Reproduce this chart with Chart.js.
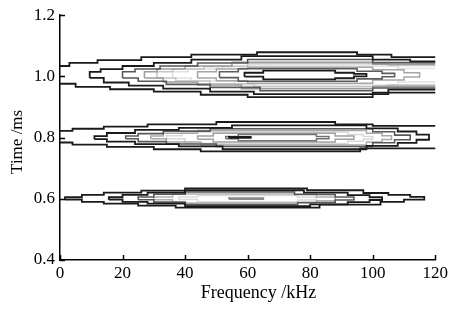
<!DOCTYPE html>
<html><head><meta charset="utf-8">
<script src="https://cdn.jsdelivr.net/npm/chart.js@4/dist/chart.umd.min.js"></script>
<style>html,body{margin:0;padding:0;background:#fff}canvas{display:block}</style>
</head><body>
<canvas id="c" width="451" height="309"></canvas>
<script>
// Axis ticks
const freqTicks = [0, 20, 40, 60, 80, 100, 120];
const timeTicks = [0.4, 0.6, 0.8, 1.0, 1.2];
const timeTickLabels = ['0.4', '0.6', '0.8', '1.0', '1.2'];
const xTitle = 'Frequency /kHz';
const yTitle = 'Time /ms';

// Contours around t = 1.0 ms  (points: [kHz, ms], stepped outlines)
const a1 = [[-3,0.976],[3,1.034],[12,1.044],[26,1.053],[42,1.063],[63,1.071],[95,1.079],[106,1.071],[125,1.063],[100,0.947],[60,0.932],[45,0.940],[30,0.950],[16,0.958],[5,0.966],[-3,0.976]];
const a2 = [[9.5,0.995],[13,1.015],[20,1.024],[30,1.034],[42,1.044],[58,1.055],[100,1.066],[112,1.055],[125,1.049],[105,0.957],[62,0.942],[48,0.950],[33,0.960],[22,0.970],[14,0.980],[9.5,0.995]];
const a3 = [[20,0.995],[24,1.015],[32,1.024],[44,1.034],[60,1.044],[100,1.055],[125,1.045],[100,0.962],[64,0.953],[48,0.964],[34,0.974],[25,0.984],[20,0.995]];
const a4 = [[27,0.995],[31,1.015],[40,1.024],[55,1.034],[100,1.046],[125,1.040],[100,0.968],[58,0.960],[44,0.972],[33,0.982],[27,0.995]];
const a5 = [[31,0.995],[36,1.015],[46,1.024],[60,1.032],[105,1.041],[125,1.036],[105,0.972],[62,0.966],[48,0.976],[37,0.985],[31,0.995]];
const a6 = [[36,0.995],[41,1.015],[52,1.024],[108,1.034],[125,1.026],[108,0.982],[56,0.972],[42,0.985],[36,0.995]];
const a7 = [[44,0.995],[50,1.015],[60,1.024],[100,1.030],[110,1.022],[115,1.012],[110,0.998],[100,0.988],[60,0.978],[50,0.986],[44,0.995]];
const a8 = [[51,0.996],[57,1.015],[95,1.025],[103,1.017],[107,1.010],[103,0.999],[95,0.992],[57,0.984],[51,0.996]];
const a9 = [[59,0.999],[65,1.012],[88,1.019],[94,1.012],[98,1.008],[94,1.000],[88,0.994],[65,0.990],[59,0.999]];

// Contours around t = 0.8 ms
const b1 = [[-3,0.784],[4,0.822],[14,0.829],[28,0.836],[50,0.843],[88,0.851],[100,0.843],[125,0.838],[96,0.765],[45,0.755],[30,0.762],[15,0.770],[4,0.777],[-3,0.784]];
const b2 = [[11,0.795],[15,0.805],[24,0.815],[38,0.825],[55,0.832],[98,0.840],[108,0.830],[114,0.820],[118,0.810],[114,0.793],[108,0.783],[98,0.773],[52,0.762],[38,0.771],[24,0.779],[15,0.787],[11,0.795]];
const b3 = [[21,0.796],[25,0.805],[33,0.813],[48,0.821],[100,0.829],[107,0.819],[112,0.808],[107,0.793],[100,0.783],[50,0.771],[34,0.779],[25,0.787],[21,0.796]];
const b4 = [[29,0.796],[33,0.805],[44,0.814],[98,0.823],[103,0.814],[106,0.806],[103,0.794],[98,0.786],[45,0.776],[34,0.786],[29,0.796]];
const b5 = [[34,0.796],[39,0.806],[92,0.818],[97,0.810],[100,0.804],[97,0.795],[92,0.788],[40,0.781],[34,0.796]];
const b6 = [[44,0.795],[49,0.805],[88,0.814],[94,0.805],[88,0.795],[49,0.786],[44,0.795]];
const b7 = [[53,0.796],[57,0.804],[82,0.810],[86,0.804],[82,0.796],[57,0.790],[53,0.796]];
const b8 = [[54,0.799],[61,0.802],[54,0.799]];

// Contours around t = 0.6 ms
const c1 = [[1.6,0.597],[7,0.605],[14,0.613],[26,0.620],[40,0.627],[79,0.634],[97,0.628],[105,0.619],[112,0.613],[116.5,0.606],[110,0.597],[102.5,0.590],[83,0.581],[37,0.571],[25,0.578],[14,0.584],[7,0.590],[1.6,0.597]];
const c2 = [[15.6,0.597],[20,0.605],[28,0.613],[40,0.620],[78,0.628],[92,0.620],[99,0.612],[103,0.605],[99,0.596],[92,0.589],[80,0.582],[40,0.576],[28,0.584],[20,0.590],[15.6,0.597]];
const c3 = [[25,0.597],[30,0.606],[40,0.615],[75,0.622],[88,0.614],[94,0.606],[88,0.596],[76,0.588],[40,0.581],[30,0.589],[25,0.597]];
const c4 = [[30,0.597],[36,0.606],[82,0.616],[88,0.606],[82,0.594],[36,0.586],[30,0.597]];
const c5 = [[38,0.598],[44,0.606],[76,0.611],[82,0.605],[76,0.596],[44,0.590],[38,0.598]];
const c6 = [[54,0.599],[65,0.602],[54,0.599]];

// Styles (kept separate from data)
const BLACK = '#1a1a1a';
const styled = [
  [a6,'#e0e0e0',1.5],[a5,'#c4c4c4',1.5],[a4,'#9c9c9c',1.5],[a7,'#a6a6a6',1.5],[a3,'#565656',1.6],[a8,'#5c5c5c',1.6],[a2,BLACK,1.8],[a1,BLACK,1.8],[a9,BLACK,1.8],
  [b5,'#d8d8d8',1.5],[b4,'#a8a8a8',1.5],[b6,'#a0a0a0',1.5],[b3,'#585858',1.6],[b7,'#707070',1.5],[b2,BLACK,1.8],[b1,BLACK,1.8],[b8,BLACK,1.8],
  [c5,'#dcdcdc',1.5],[c4,'#b0b0b0',1.5],[c3,'#585858',1.6],[c6,'#8a8a8a',1.8],[c2,BLACK,1.8],[c1,BLACK,1.8]
];

const datasets = styled.map(([pts, color, w]) => ({
  data: pts.map(p => ({x: p[0], y: p[1]})),
  showLine: true,
  stepped: 'after',
  borderColor: color,
  borderWidth: w,
  pointRadius: 0,
  fill: false,
  clip: {left: 0, right: 0, top: 5, bottom: 5}
})).reverse();

const inwardTicks = {
  id: 'inwardTicks',
  afterDraw(chart) {
    const {ctx, chartArea, scales} = chart;
    ctx.save();
    ctx.strokeStyle = '#000';
    ctx.lineWidth = 1.5;
    ctx.beginPath();
    freqTicks.forEach(v => {
      const x = Math.round(scales.x.getPixelForValue(v)) + 0.5;
      ctx.moveTo(x, chartArea.bottom);
      ctx.lineTo(x, chartArea.bottom - 5);
    });
    timeTicks.forEach(v => {
      const y = Math.round(scales.y.getPixelForValue(v)) + 0.5;
      ctx.moveTo(chartArea.left, y);
      ctx.lineTo(chartArea.left + 5, y);
    });
    ctx.stroke();
    ctx.restore();
  }
};

new Chart(document.getElementById('c'), {
  type: 'scatter',
  data: {datasets},
  options: {
    responsive: false,
    animation: false,
    devicePixelRatio: 1,
    layout: {padding: {top: 11, right: 14, left: 0, bottom: 0}},
    plugins: {legend: {display: false}, tooltip: {enabled: false}},
    scales: {
      x: {
        type: 'linear', min: 0, max: 120,
        afterBuildTicks: s => { s.ticks = freqTicks.map(v => ({value: v})); },
        afterFit: s => { s.height = 49; },
        ticks: {color: '#000', padding: 3, font: {family: 'Liberation Serif', size: 17}, maxRotation: 0,
          callback: v => String(v)},
        grid: {display: true, drawOnChartArea: false, drawTicks: false},
        border: {display: true, color: '#000', width: 1.5},
        title: {display: true, text: '\u2003\u2009' + xTitle, color: '#000',
          font: {family: 'Liberation Serif', size: 18}, padding: {top: 0, bottom: 5}}
      },
      y: {
        type: 'linear', min: 0.4, max: 1.2,
        afterBuildTicks: s => { s.ticks = timeTicks.map(v => ({value: v})); },
        afterFit: s => { s.width = 60; },
        ticks: {color: '#000', padding: 5, font: {family: 'Liberation Serif', size: 17},
          callback: v => timeTickLabels[timeTicks.findIndex(t => Math.abs(t - v) < 1e-9)]},
        grid: {display: true, drawOnChartArea: false, drawTicks: false},
        border: {display: true, color: '#000', width: 1.5},
        title: {display: true, text: yTitle + '\u2002', color: '#000',
          font: {family: 'Liberation Serif', size: 17}, padding: {top: 7, bottom: 0}}
      }
    }
  },
  plugins: [inwardTicks]
});
</script>
</body></html>
